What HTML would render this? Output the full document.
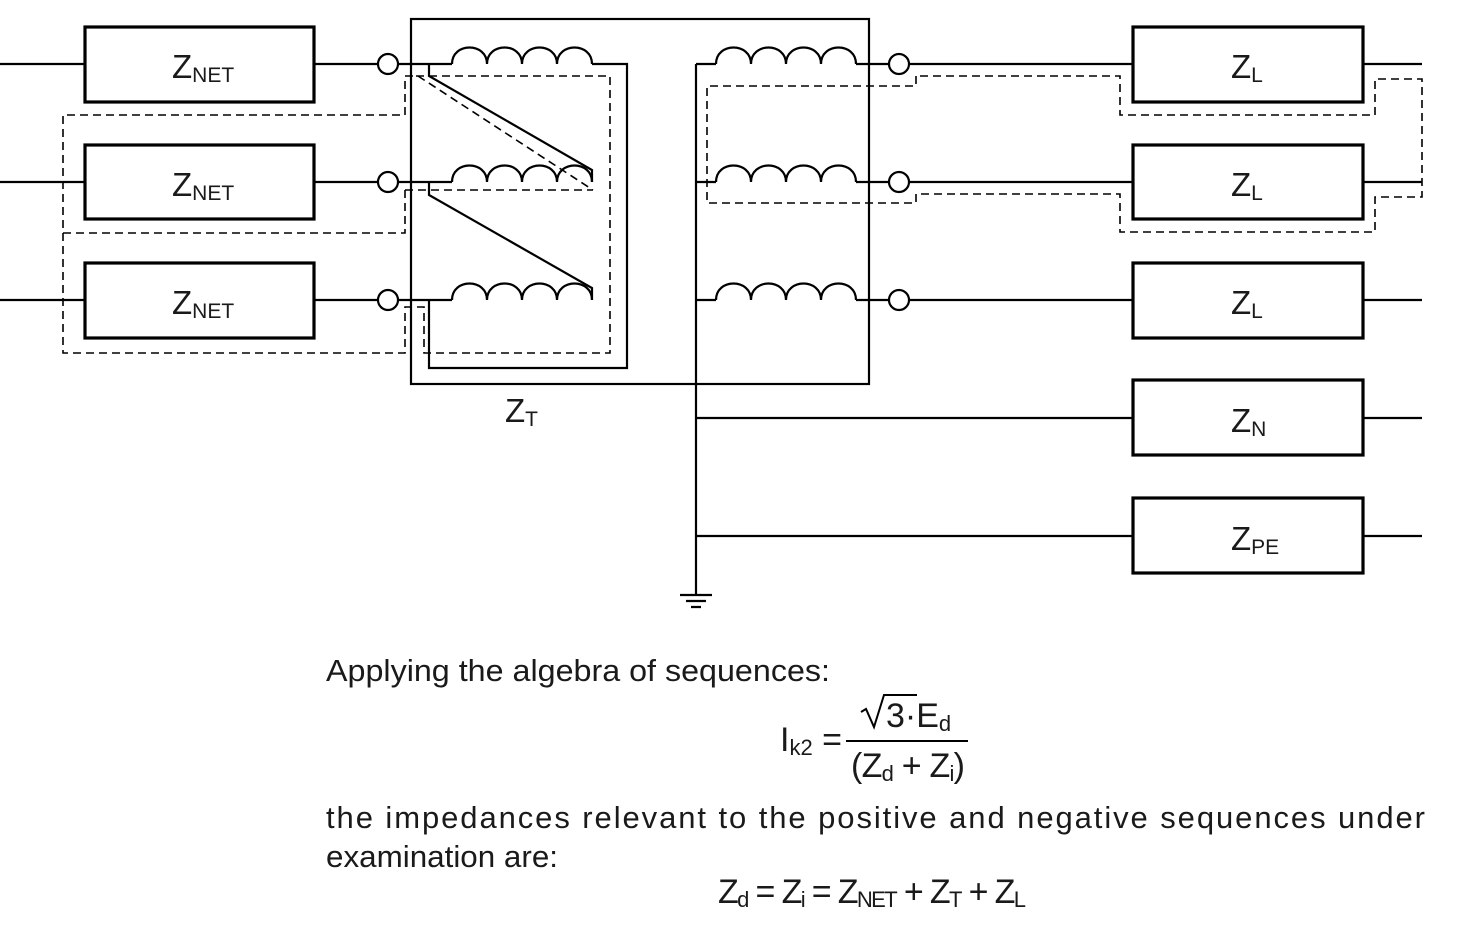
<!DOCTYPE html>
<html><head><meta charset="utf-8"><style>
html,body{margin:0;padding:0;background:#fff;}
svg{display:block;}
text{font-family:"Liberation Sans",sans-serif;fill:#1a1a1a;}
</style></head><body>
<svg width="1458" height="925" viewBox="0 0 1458 925" xmlns="http://www.w3.org/2000/svg">
<defs>
<path id="coil" d="M0,0 C0,-22 35,-22 35,0 C35,-22 70,-22 70,0 C70,-22 105,-22 105,0 C105,-22 140,-22 140,0" fill="none" stroke="#000" stroke-width="2.2"/>
</defs>
<g fill="none" stroke="#000" stroke-width="2.2">
<path d="M0,64H85 M314,64H378 M398,64H452 M0,182H85 M314,182H378 M398,182H452 M0,300H85 M314,300H378 M398,300H452"/>
<circle cx="388" cy="64" r="10"/><circle cx="388" cy="182" r="10"/><circle cx="388" cy="300" r="10"/>
<path d="M592,64H627V368H429V300"/>
<path d="M429,64V76L592,170V182"/>
<path d="M429,182V195L592,288V300"/>
<rect x="411" y="19" width="458" height="365"/>
<path d="M696,64V595 M696,64H716 M696,182H716 M696,300H716"/>
<path d="M856,64H889 M909,64H1133 M856,182H889 M909,182H1133 M856,300H889 M909,300H1133"/>
<circle cx="899" cy="64" r="10"/><circle cx="899" cy="182" r="10"/><circle cx="899" cy="300" r="10"/>
<path d="M696,418H1133 M696,536H1133"/>
<path d="M1363,64H1422 M1363,182H1422 M1363,300H1422 M1363,418H1422 M1363,536H1422"/>
<path d="M680,595H712 M686,601H706 M691,607H701"/>
</g>
<use href="#coil" x="452" y="64"/><use href="#coil" x="452" y="182"/><use href="#coil" x="452" y="300"/>
<use href="#coil" x="716" y="64"/><use href="#coil" x="716" y="182"/><use href="#coil" x="716" y="300"/>
<g fill="#fff" stroke="#000" stroke-width="3.2">
<rect x="85" y="27" width="229" height="75"/>
<rect x="85" y="145" width="229" height="74"/>
<rect x="85" y="263" width="229" height="75"/>
<rect x="1133" y="27" width="230" height="75"/>
<rect x="1133" y="145" width="230" height="74"/>
<rect x="1133" y="263" width="230" height="75"/>
<rect x="1133" y="380" width="230" height="75"/>
<rect x="1133" y="498" width="230" height="75"/>
</g>
<g fill="none" stroke="#000" stroke-width="1.6" stroke-dasharray="8,5">
<path d="M413,76H405V115H63V353H405V307H424V353H610V76H413"/>
<path d="M405,190V233H63"/>
<path d="M405,190H593"/>
<path d="M418,76L593,190"/>
<path d="M916,76V86H707V203H916V194H1120V232H1375V197H1422V79H1375V115H1120V76H916"/>
</g>
<g font-size="33">
<text x="172" y="78">Z<tspan font-size="21" dy="4">NET</tspan></text>
<text x="172" y="196">Z<tspan font-size="21" dy="4">NET</tspan></text>
<text x="172" y="314">Z<tspan font-size="21" dy="4">NET</tspan></text>
<text x="1231" y="78">Z<tspan font-size="21" dy="4">L</tspan></text>
<text x="1231" y="196">Z<tspan font-size="21" dy="4">L</tspan></text>
<text x="1231" y="314">Z<tspan font-size="21" dy="4">L</tspan></text>
<text x="1231" y="432">Z<tspan font-size="21" dy="4">N</tspan></text>
<text x="1231" y="550">Z<tspan font-size="21" dy="4">PE</tspan></text>
<text x="505" y="422">Z<tspan font-size="21" dy="4">T</tspan></text>
</g>
<g font-size="31">
<text x="326" y="681" textLength="504" lengthAdjust="spacingAndGlyphs">Applying the algebra of sequences:</text>
<text x="326" y="828" textLength="1099" lengthAdjust="spacing">the impedances relevant to the positive and negative sequences under</text>
<text x="326" y="867" textLength="232" lengthAdjust="spacingAndGlyphs">examination are:</text>
</g>
<g font-size="34">
<text x="780" y="751">I<tspan font-size="22" dy="4">k2</tspan><tspan dy="-4"> =</tspan></text>
<line x1="846" y1="741" x2="968" y2="741" stroke="#000" stroke-width="2"/>
<path d="M861,712L866,709L874,727L884,695H917" fill="none" stroke="#000" stroke-width="2"/>
<text x="886" y="727">3·E<tspan font-size="22" dy="4">d</tspan></text>
<text x="851" y="777" textLength="114" lengthAdjust="spacing">(Z<tspan font-size="22" dy="4">d</tspan><tspan dy="-4"> + Z</tspan><tspan font-size="22" dy="4">i</tspan><tspan dy="-4">)</tspan></text>
<text x="718" y="903" textLength="308" lengthAdjust="spacing">Z<tspan font-size="22" dy="4">d</tspan><tspan dy="-4"> = Z</tspan><tspan font-size="22" dy="4">i</tspan><tspan dy="-4"> = Z</tspan><tspan font-size="22" dy="4">NET</tspan><tspan dy="-4"> + Z</tspan><tspan font-size="22" dy="4">T</tspan><tspan dy="-4"> + Z</tspan><tspan font-size="22" dy="4">L</tspan></text>
</g>
</svg>
</body></html>
